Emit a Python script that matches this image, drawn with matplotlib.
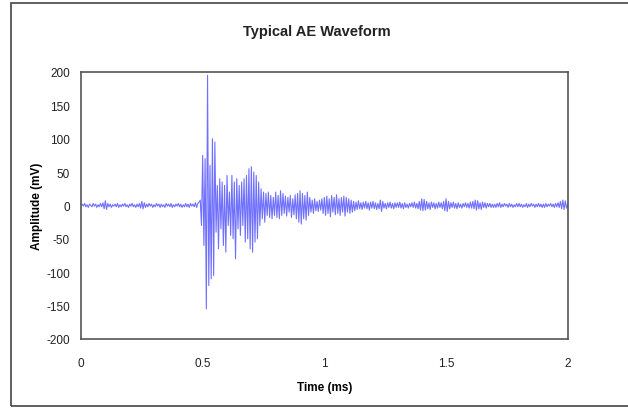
import numpy as np
import matplotlib.pyplot as plt
from matplotlib.patches import Rectangle

plt.rcParams['font.family'] = ['Liberation Sans', 'DejaVu Sans']
plt.rcParams['axes.unicode_minus'] = False

# sampling interval of the recorded waveform (ms)
dt = 0.005

# amplitude samples (mV) in 0.1 ms blocks
pre_trigger = [
    0, 2, -1, 3, -2, 1, -3, 2, 0, -2, 3, -1, 2, -3, 1, -2, 3, -2, 4, -5,
    7, -6, 3, -2, 2, -3, 1, -1, 2, -2, 3, -3, 1, -2, 2, -1, 3, -2, 1, -3,
    2, -1, 3, -2, 1, -3, 2, -2, 3, -4, 6, -5, 4, -3, 2, -2, 3, -1, 2, -3,
    1, -2, 3, -1, 2, -3, 2, -2, 1, -3, 3, -1, 2, -2, 3, -3, 1, -2, 2, -1,
    3, -2, 2, -3, 1, -2, 3, -2, 2, -3, 3, -1, 2, -2, 4, -3, 3, 5, 8, -30,
]
burst = [
    75, -60, 70, -155, 195, -120, 60, -110, 100, -105, 95, -40, 30, -65, 40, -35, 35, -60, 30, -70,
    45, -30, 20, -45, 45, -50, 35, -80, 40, -35, 30, -45, 35, -30, 40, -55, 45, -50, 55, -65,
    58, -70, 50, -55, 45, -50, 35, -30, 25, -20, 20, -25, 18, -15, 20, -18, 15, -20, 12, -15,
    20, -18, 15, -20, 22, -15, 18, -12, 14, -16, 12, -10, 15, -18, 10, -14, 16, -20, 18, -25,
    22, -28, 18, -20, 15, -22, 20, -15, 12, -10, 8, -12, 10, -8, 6, -9, 8, -7, 10, -12,
]
decay = [
    12, -15, 14, -12, 10, -17, 15, -10, 12, -14, 16, -12, 10, -15, 12, -10, 14, -16, 12, -10,
    10, -12, 8, -10, 6, -8, 5, -6, 7, -5, 4, -6, 5, -4, 6, -5, 4, -7, 5, -4,
    6, -5, 4, -6, 3, -5, 8, -9, 6, -4, 3, -5, 4, -3, 5, -4, 3, -5, 4, -3,
    4, -3, 5, -4, 3, -5, 4, -3, 2, -4, 3, -2, 4, -3, 5, -4, 3, -5, 6, -7,
    10, -8, 9, -7, 6, -5, 4, -6, 5, -3, 4, -5, 3, -4, 5, -3, 4, -5, 6, -8,
]
tail = [
    10, -9, 6, -5, 4, -3, 5, -4, 3, -5, 4, -3, 2, -4, 3, -2, 4, -3, 3, -4,
    5, -4, 6, -5, 8, -7, 7, -5, 4, -6, 5, -3, 4, -4, 3, -2, 3, -3, 2, -3,
    2, -3, 3, -2, 4, -3, 2, -2, 3, -1, 2, -3, 3, -2, 2, -3, 1, -2, 3, -2,
    3, -2, 2, -3, 1, -2, 3, -3, 2, -2, 3, -1, 2, -3, 2, -2, 3, -2, 2, -3,
    2, -3, 3, -2, 2, -1, 3, -2, 2, -3, 3, -2, 4, -3, 6, -5, 8, -6, 7, -4,
    2,
]

x_ticks = [0, 0.5, 1, 1.5, 2]
x_tick_labels = ['0', '0.5', '1', '1.5', '2']
y_ticks = [-200, -150, -100, -50, 0, 50, 100, 150, 200]

amplitude = np.array(pre_trigger + burst + decay + tail, dtype=float)
time = np.arange(len(amplitude)) * dt

fig = plt.figure(figsize=(6.28, 4.10), dpi=100)
ax = fig.add_axes([0.129, 0.171, 0.775, 0.651])

ax.plot(time, amplitude, color='#7070ff', lw=0.8)

ax.set_xlim(0, 2)
ax.set_ylim(-200, 200)
ax.set_xticks(x_ticks)
ax.set_xticklabels(x_tick_labels)
ax.set_yticks(y_ticks)
ax.tick_params(axis='both', length=0, labelsize=8.5, colors='#222222')
ax.tick_params(axis='x', pad=13)
ax.tick_params(axis='y', pad=8)
for s in ax.spines.values():
    s.set_color('#555555')
    s.set_linewidth(1.2)

ax.set_xlabel('Time (ms)', fontsize=8.5, fontweight='bold', labelpad=9)
ax.set_ylabel('Amplitude (mV)', fontsize=8.5, fontweight='bold', labelpad=2)
fig.text(0.505, 1 - 32 / 410, 'Typical AE Waveform', ha='center', va='center',
         fontsize=10.5, fontweight='bold', color='#222222')

# outer chart border (right side runs off the image)
fig.add_artist(Rectangle((11 / 628, 3 / 410), 1.2, 1 - 7 / 410,
                         transform=fig.transFigure, fill=False,
                         ec='#444444', lw=1.2))

fig.savefig('out.png', dpi=100)
